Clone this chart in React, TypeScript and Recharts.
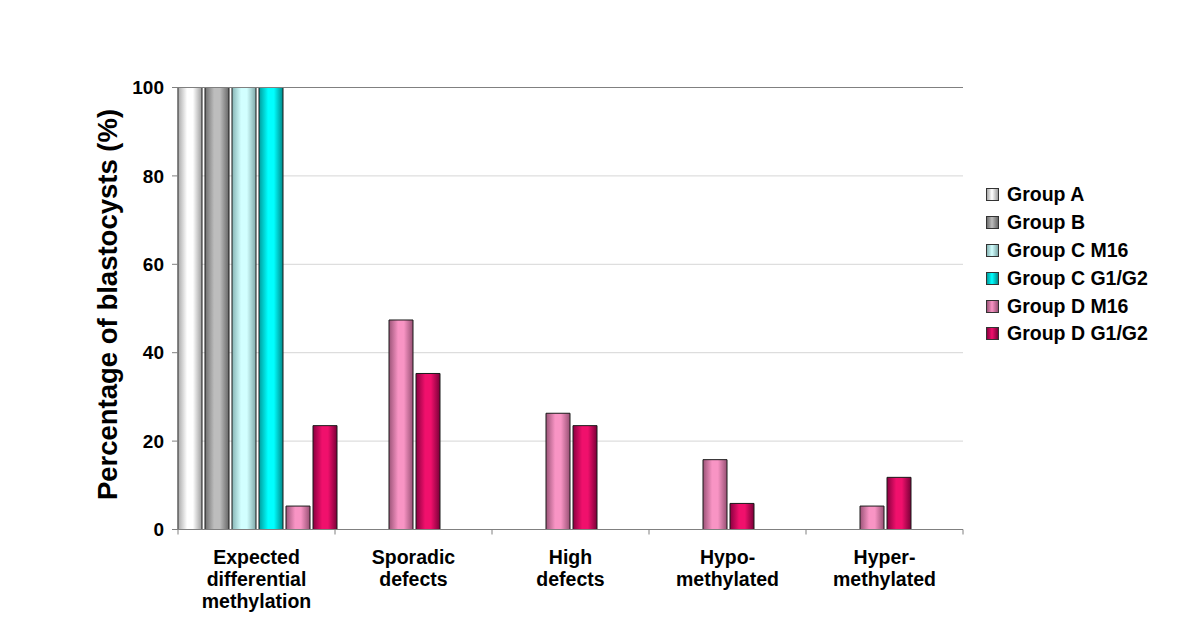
import React from 'react';
import { BarChart, Bar, XAxis, YAxis, CartesianGrid, ReferenceLine } from 'recharts';

// ---- data ----
const categories = [
  'Expected differential methylation',
  'Sporadic defects',
  'High defects',
  'Hypo-methylated',
  'Hyper-methylated',
];
const categoryLines = [
  ['Expected', 'differential', 'methylation'],
  ['Sporadic', 'defects'],
  ['High', 'defects'],
  ['Hypo-', 'methylated'],
  ['Hyper-', 'methylated'],
];
const groupA = [100, 0, 0, 0, 0];
const groupB = [100, 0, 0, 0, 0];
const groupCM16 = [100, 0, 0, 0, 0];
const groupCG1G2 = [100, 0, 0, 0, 0];
const groupDM16 = [5.3, 47.4, 26.3, 15.8, 5.3];
const groupDG1G2 = [23.5, 35.3, 23.5, 5.9, 11.8];
const yTicks = [0, 20, 40, 60, 80, 100];
const seriesNames = ['Group A', 'Group B', 'Group C M16', 'Group C G1/G2', 'Group D M16', 'Group D G1/G2'];

// ---- styles ----
const FONT = "Arial, 'Liberation Sans', Helvetica, sans-serif";
const W = 1200;
const H = 631;
const PLOT_LEFT = 178;
const PLOT_RIGHT = 963;
const PLOT_TOP = 87.5;
const PLOT_BOTTOM = 529.5;
const Y_AXIS_W = 60;
const X_AXIS_H = 60;
const BAND = (PLOT_RIGHT - PLOT_LEFT) / categories.length;

const palette = [
  { id: 'gA', edge: '#a8a8a8', mid: '#ffffff', edge2: '#9a9a9a' },
  { id: 'gB', edge: '#6e6e6e', mid: '#bdbdbd', edge2: '#666666' },
  { id: 'gC', edge: '#86b4b4', mid: '#d2ffff', edge2: '#7ea8a8' },
  { id: 'gC2', edge: '#009c9c', mid: '#00ffff', edge2: '#008888' },
  { id: 'gD', edge: '#9c5478', mid: '#f894c4', edge2: '#985074' },
  { id: 'gD2', edge: '#8a0040', mid: '#f0106c', edge2: '#7a0038' },
];

// groups A-C present -> D bars sit after them; otherwise D bars are centred
const data = categories.map((name, i) => {
  const hasControls = groupA[i] + groupB[i] + groupCM16[i] + groupCG1G2[i] > 0;
  return {
    name,
    a: groupA[i],
    b: groupB[i],
    cM16: groupCM16[i],
    cG: groupCG1G2[i],
    dM16Mid: hasControls ? 0 : groupDM16[i],
    dGMid: hasControls ? 0 : groupDG1G2[i],
    dM16Side: hasControls ? groupDM16[i] : 0,
    dGSide: hasControls ? groupDG1G2[i] : 0,
  };
});

const XTick = (props: any) => {
  const { x, index } = props;
  const lines = categoryLines[index] || [];
  const half = BAND / 2;
  return (
    <g>
      {index === 0 && (
        <line x1={x - half} x2={x - half} y1={PLOT_BOTTOM} y2={PLOT_BOTTOM + 5} stroke="#808080" />
      )}
      <line x1={x + half} x2={x + half} y1={PLOT_BOTTOM} y2={PLOT_BOTTOM + 5} stroke="#808080" />
      <text
        x={x}
        y={PLOT_BOTTOM + 34.5}
        textAnchor="middle"
        fontFamily={FONT}
        fontWeight="bold"
        fontSize={19.5}
        fill="#000"
      >
        {lines.map((l: string, j: number) => (
          <tspan key={j} x={x} dy={j === 0 ? 0 : 22}>
            {l}
          </tspan>
        ))}
      </text>
    </g>
  );
};

const YTitle = (props: any) => {
  const vb = props.viewBox || { x: 0, y: 0, width: 0, height: 0 };
  const cy = vb.y + vb.height / 2 - 4;
  const cx = 116.5;
  return (
    <text
      transform={`translate(${cx},${cy}) rotate(-90)`}
      textAnchor="middle"
      fontFamily={FONT}
      fontWeight="bold"
      fontSize={27.5}
      fill="#000"
    >
      Percentage of blastocysts (%)
    </text>
  );
};

const barCommon = {
  isAnimationActive: false,
  stroke: '#1a1a1a',
  strokeWidth: 1,
};

export default function App() {
  return (
    <div style={{ position: 'absolute', left: 0, top: 0, width: W, height: H, background: '#fff' }}>
      <BarChart
        width={W}
        height={H}
        data={data}
        margin={{
          top: PLOT_TOP,
          right: W - PLOT_RIGHT,
          bottom: H - PLOT_BOTTOM - X_AXIS_H,
          left: PLOT_LEFT - Y_AXIS_W,
        }}
        barCategoryGap={0}
        barGap={3}
        style={{ fontFamily: FONT }}
      >
        <defs>
          {palette.map((p) => (
            <linearGradient key={p.id} id={p.id} x1="0" y1="0" x2="1" y2="0">
              <stop offset="0%" stopColor={p.edge} />
              <stop offset="38%" stopColor={p.mid} />
              <stop offset="62%" stopColor={p.mid} />
              <stop offset="100%" stopColor={p.edge2} />
            </linearGradient>
          ))}
        </defs>
        <CartesianGrid vertical={false} stroke="#d6d6d6" />
        <XAxis
          dataKey="name"
          height={X_AXIS_H}
          axisLine={{ stroke: '#808080' }}
          tickLine={false}
          tick={<XTick />}
          interval={0}
        />
        <YAxis
          width={Y_AXIS_W}
          domain={[0, 100]}
          ticks={yTicks}
          interval={0}
          axisLine={{ stroke: '#808080' }}
          tickLine={{ stroke: '#808080' }}
          tickSize={6}
          tickMargin={8}
          tick={{ fill: '#000', fontSize: 19, fontWeight: 'bold', fontFamily: FONT }}
          label={<YTitle />}
        />
        <YAxis
          yAxisId="right"
          orientation="right"
          width={0}
          domain={[0, 100]}
          tick={false}
          tickLine={false}
          axisLine={{ stroke: '#808080' }}
        />
        <ReferenceLine y={100} stroke="#808080" />
        <Bar dataKey="a" name={seriesNames[0]} stackId="s1" fill="url(#gA)" {...barCommon} />
        <Bar dataKey="b" name={seriesNames[1]} stackId="s2" fill="url(#gB)" {...barCommon} />
        <Bar dataKey="cM16" name={seriesNames[2]} stackId="s3" fill="url(#gC)" {...barCommon} />
        <Bar dataKey="dM16Mid" name={seriesNames[4]} stackId="s3" fill="url(#gD)" {...barCommon} />
        <Bar dataKey="cG" name={seriesNames[3]} stackId="s4" fill="url(#gC2)" {...barCommon} />
        <Bar dataKey="dGMid" name={seriesNames[5]} stackId="s4" fill="url(#gD2)" {...barCommon} />
        <Bar dataKey="dM16Side" name={seriesNames[4]} stackId="s5" fill="url(#gD)" {...barCommon} />
        <Bar dataKey="dGSide" name={seriesNames[5]} stackId="s6" fill="url(#gD2)" {...barCommon} />
      </BarChart>
      <div style={{ position: 'absolute', left: 986, top: 180.5, fontFamily: FONT }}>
        {seriesNames.map((n, i) => {
          const p = palette[i];
          return (
            <div key={n} style={{ display: 'flex', alignItems: 'center', height: 27.9 }}>
              <div
                style={{
                  width: 11,
                  height: 11,
                  border: '1px solid #333',
                  background: `linear-gradient(to right, ${p.edge} 0%, ${p.mid} 45%, ${p.edge2} 100%)`,
                }}
              />
              <span style={{ marginLeft: 8, fontSize: 19.5, fontWeight: 'bold', color: '#000', whiteSpace: 'nowrap' }}>
                {n}
              </span>
            </div>
          );
        })}
      </div>
    </div>
  );
}
